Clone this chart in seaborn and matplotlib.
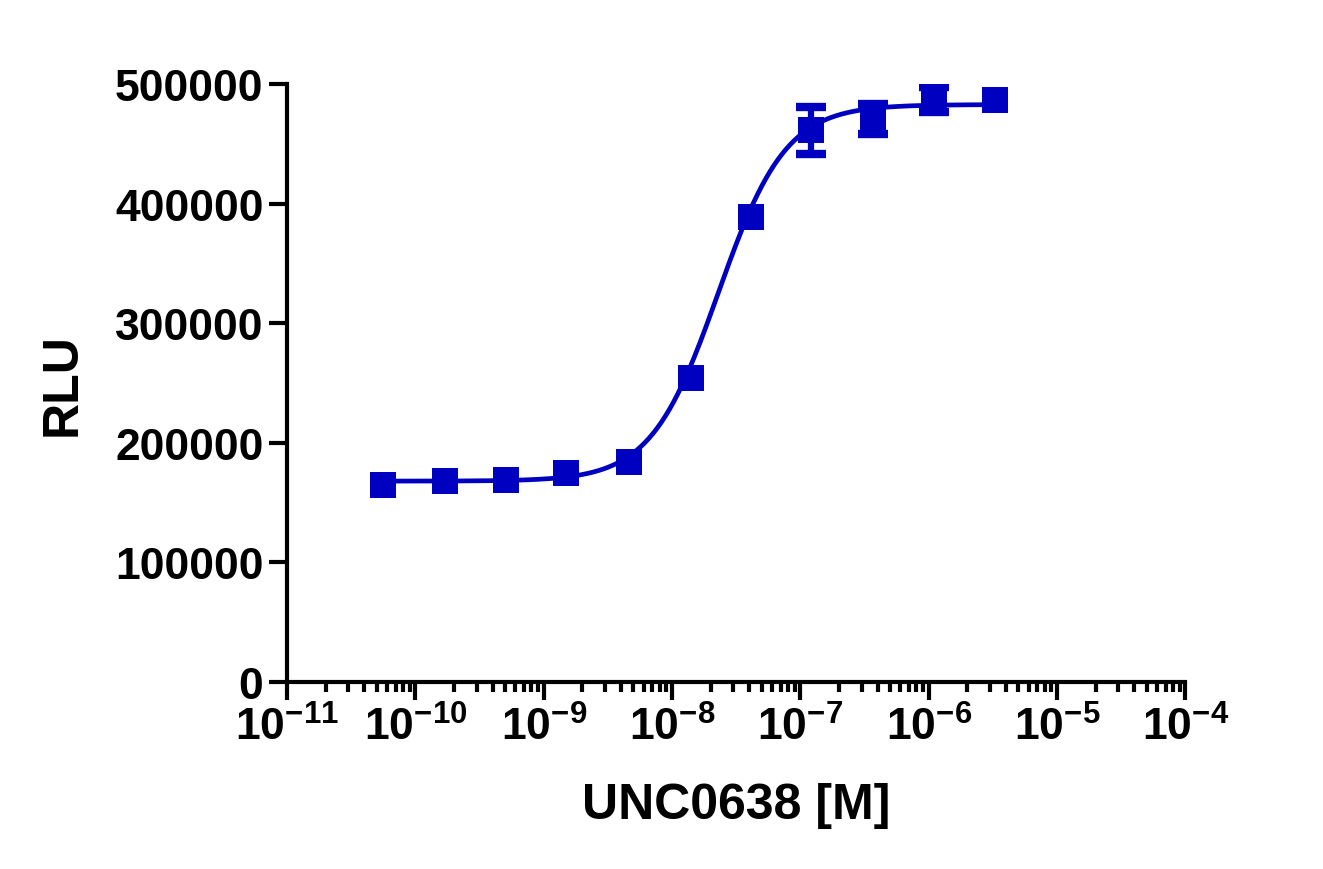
import numpy as np
import pandas as pd
import matplotlib
matplotlib.use('Agg')
import matplotlib.pyplot as plt
import seaborn as sns
from matplotlib.ticker import FixedLocator, FuncFormatter, NullFormatter

# measured points (mean +/- SD)
conc = [5.6e-11, 1.7e-10, 5.1e-10, 1.5e-9, 4.6e-9, 1.4e-8, 4.1e-8, 1.2e-7, 3.7e-7, 1.1e-6, 3.3e-6]
rlu = [164700, 168500, 168900, 174700, 183900, 254200, 388800, 461500, 471000, 487000, 486600]
rlu_sd = [0, 0, 0, 0, 0, 0, 0, 19500, 12500, 10500, 0]

# 4PL fit
fit_bottom = 168000
fit_top = 483000
fit_log_ec50 = -7.64
fit_hill = 1.65

x_ticks = [1e-11, 1e-10, 1e-9, 1e-8, 1e-7, 1e-6, 1e-5, 1e-4]
y_ticks = [0, 100000, 200000, 300000, 400000, 500000]

blue = '#0000C0'

sns.set_style('ticks')
plt.rcParams['font.family'] = ['Liberation Sans', 'DejaVu Sans']
plt.rcParams['font.weight'] = 'bold'
plt.rcParams['mathtext.fontset'] = 'custom'
plt.rcParams['mathtext.rm'] = 'Liberation Sans:bold'
plt.rcParams['mathtext.bf'] = 'Liberation Sans:bold'
plt.rcParams['mathtext.it'] = 'Liberation Sans:bold'
plt.rcParams['text.color'] = 'black'
plt.rcParams['axes.labelcolor'] = 'black'

df = pd.DataFrame({'conc': conc, 'rlu': rlu, 'sd': rlu_sd})

logx = np.linspace(np.log10(conc[0]), np.log10(conc[-1]), 300)
curve = pd.DataFrame({
    'conc': 10 ** logx,
    'rlu': fit_bottom + (fit_top - fit_bottom) / (1 + 10 ** ((fit_log_ec50 - logx) * fit_hill)),
})

fig = plt.figure(figsize=(13.23, 8.7), dpi=100)
ax = fig.add_axes([0.217, 0.215, 0.679, 0.687])

sns.lineplot(data=curve, x='conc', y='rlu', color=blue, lw=3.4, ax=ax)
err = df[df.sd > 0]
_, caps, bars = ax.errorbar(err.conc, err.rlu, yerr=err.sd, fmt='none', ecolor=blue,
                            elinewidth=4.5, capsize=11, capthick=6, zorder=3)
for c in caps:
    c.set_solid_capstyle('round')
sns.scatterplot(data=df, x='conc', y='rlu', marker='s', s=330, color=blue,
                edgecolor=blue, linewidth=0, ax=ax, zorder=4)

ax.set_xscale('log')
ax.set_xlim(1e-11, 1e-4)
ax.set_ylim(0, 500000)

ax.xaxis.set_major_locator(FixedLocator(x_ticks))
ax.xaxis.set_major_formatter(FuncFormatter(lambda v, p: r'$\mathbf{10^{%d}}$' % round(np.log10(v))))
minors = [m * 10.0 ** e for e in range(-11, -4) for m in range(2, 10)]
ax.xaxis.set_minor_locator(FixedLocator(minors))
ax.xaxis.set_minor_formatter(NullFormatter())
ax.yaxis.set_major_locator(FixedLocator(y_ticks))
ax.yaxis.set_major_formatter(FuncFormatter(lambda v, p: '%d' % v))

for s in ['top', 'right']:
    ax.spines[s].set_visible(False)
for s in ['left', 'bottom']:
    ax.spines[s].set_linewidth(3)
    ax.spines[s].set_color('black')

ax.tick_params(axis='both', which='major', direction='out', length=13, width=3,
               labelsize=32, colors='black', pad=4)
ax.tick_params(axis='x', which='minor', direction='out', length=7, width=3, colors='black')
for lab in ax.get_yticklabels():
    lab.set_fontweight('bold')

ax.set_xlabel('UNC0638 [M]', fontsize=36, fontweight='bold', labelpad=24)
ax.set_ylabel('RLU', fontsize=36, fontweight='bold', labelpad=21)

fig.savefig('out.png', dpi=100)
